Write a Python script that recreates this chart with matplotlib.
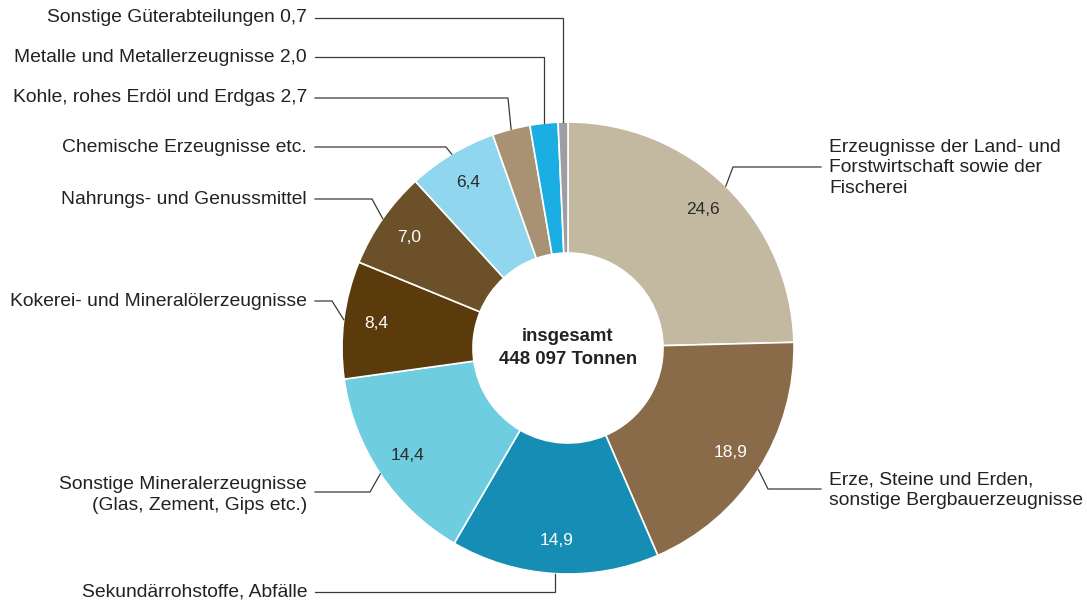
import numpy as np
import matplotlib
matplotlib.use('Agg')
import matplotlib.pyplot as plt

plt.rcParams['font.family'] = ['Liberation Sans', 'DejaVu Sans']

W, H = 1087, 603

categories = [
    'Erzeugnisse der Land- und\nForstwirtschaft sowie der\nFischerei',
    'Erze, Steine und Erden,\nsonstige Bergbauerzeugnisse',
    'Sekundärrohstoffe, Abfälle',
    'Sonstige Mineralerzeugnisse\n(Glas, Zement, Gips etc.)',
    'Kokerei- und Mineralölerzeugnisse',
    'Nahrungs- und Genussmittel',
    'Chemische Erzeugnisse etc.',
    'Kohle, rohes Erdöl und Erdgas 2,7',
    'Metalle und Metallerzeugnisse 2,0',
    'Sonstige Güterabteilungen 0,7',
]
values = [24.6, 18.9, 14.9, 14.4, 8.4, 7.0, 6.4, 2.7, 2.0, 0.7]
colors = ['#c3b9a1', '#8a6b49', '#168db5', '#6fcde0', '#5b3a0b',
          '#6c5029', '#8fd6ee', '#a89273', '#1aaee2', '#9c9ea3']
value_colors = ['#2b2b2b', 'white', 'white', '#2b2b2b', 'white',
                'white', '#2b2b2b', None, None, None]
total_label = 'insgesamt\n448 097 Tonnen'

# label layout: side, y of leader line (pixels from top), elbow x (None = vertical), text y
layout = [
    ('R', 167, 733, 168),
    ('R', 489, 768, 490),
    ('L', 592, None, 592),
    ('L', 492, 370, 495),
    ('L', 301, 332, 301),
    ('L', 199, 372, 199),
    ('L', 147, 446, 147),
    ('L', 98, 508, 98),
    ('L', 57, None, 57),
    ('L', 18, None, 18),
]

cx, cy = 568, 348
R, r_in = 226, 95


def py(y):
    return H - y


fig = plt.figure(figsize=(W / 100, H / 100), dpi=100)
ax = fig.add_axes([0, 0, 1, 1])

wedges, _, autotexts = ax.pie(
    values, colors=colors, startangle=90, counterclock=False,
    center=(cx, py(cy)), radius=R,
    autopct=lambda p: ('%.1f' % p).replace('.', ',') if p > 5 else '',
    pctdistance=0.855,
    wedgeprops=dict(width=R - r_in, edgecolor='white', linewidth=1.2),
    textprops=dict(fontsize=12.5),
)
for t, c in zip(autotexts, value_colors):
    if c:
        t.set_color(c)

ax.text(cx, py(348), total_label, ha='center', va='center', fontsize=13.4,
        fontweight='bold', color='#222222', linespacing=1.4)

for w, lab, (side, yl, ex, ty) in zip(wedges, categories, layout):
    ang = np.deg2rad((w.theta1 + w.theta2) / 2)
    axp = cx + R * np.cos(ang)
    ayp = py(cy) + R * np.sin(ang)
    if ex is None:
        ex = axp
    if side == 'L':
        xs = [315, ex, axp]
        ax.text(307, py(ty), lab, ha='right', va='center', fontsize=13.9,
                color='#222222', linespacing=1.3)
    else:
        xs = [821, ex, axp]
        ax.text(829, py(ty), lab, ha='left', va='center', fontsize=13.9,
                color='#222222', linespacing=1.3)
    ax.plot(xs, [py(yl), py(yl), ayp], color='#3a3a3a', lw=0.9,
            solid_joinstyle='miter')

ax.set_xlim(0, W)
ax.set_ylim(0, H)
ax.axis('off')

fig.savefig('out.png', dpi=100)
